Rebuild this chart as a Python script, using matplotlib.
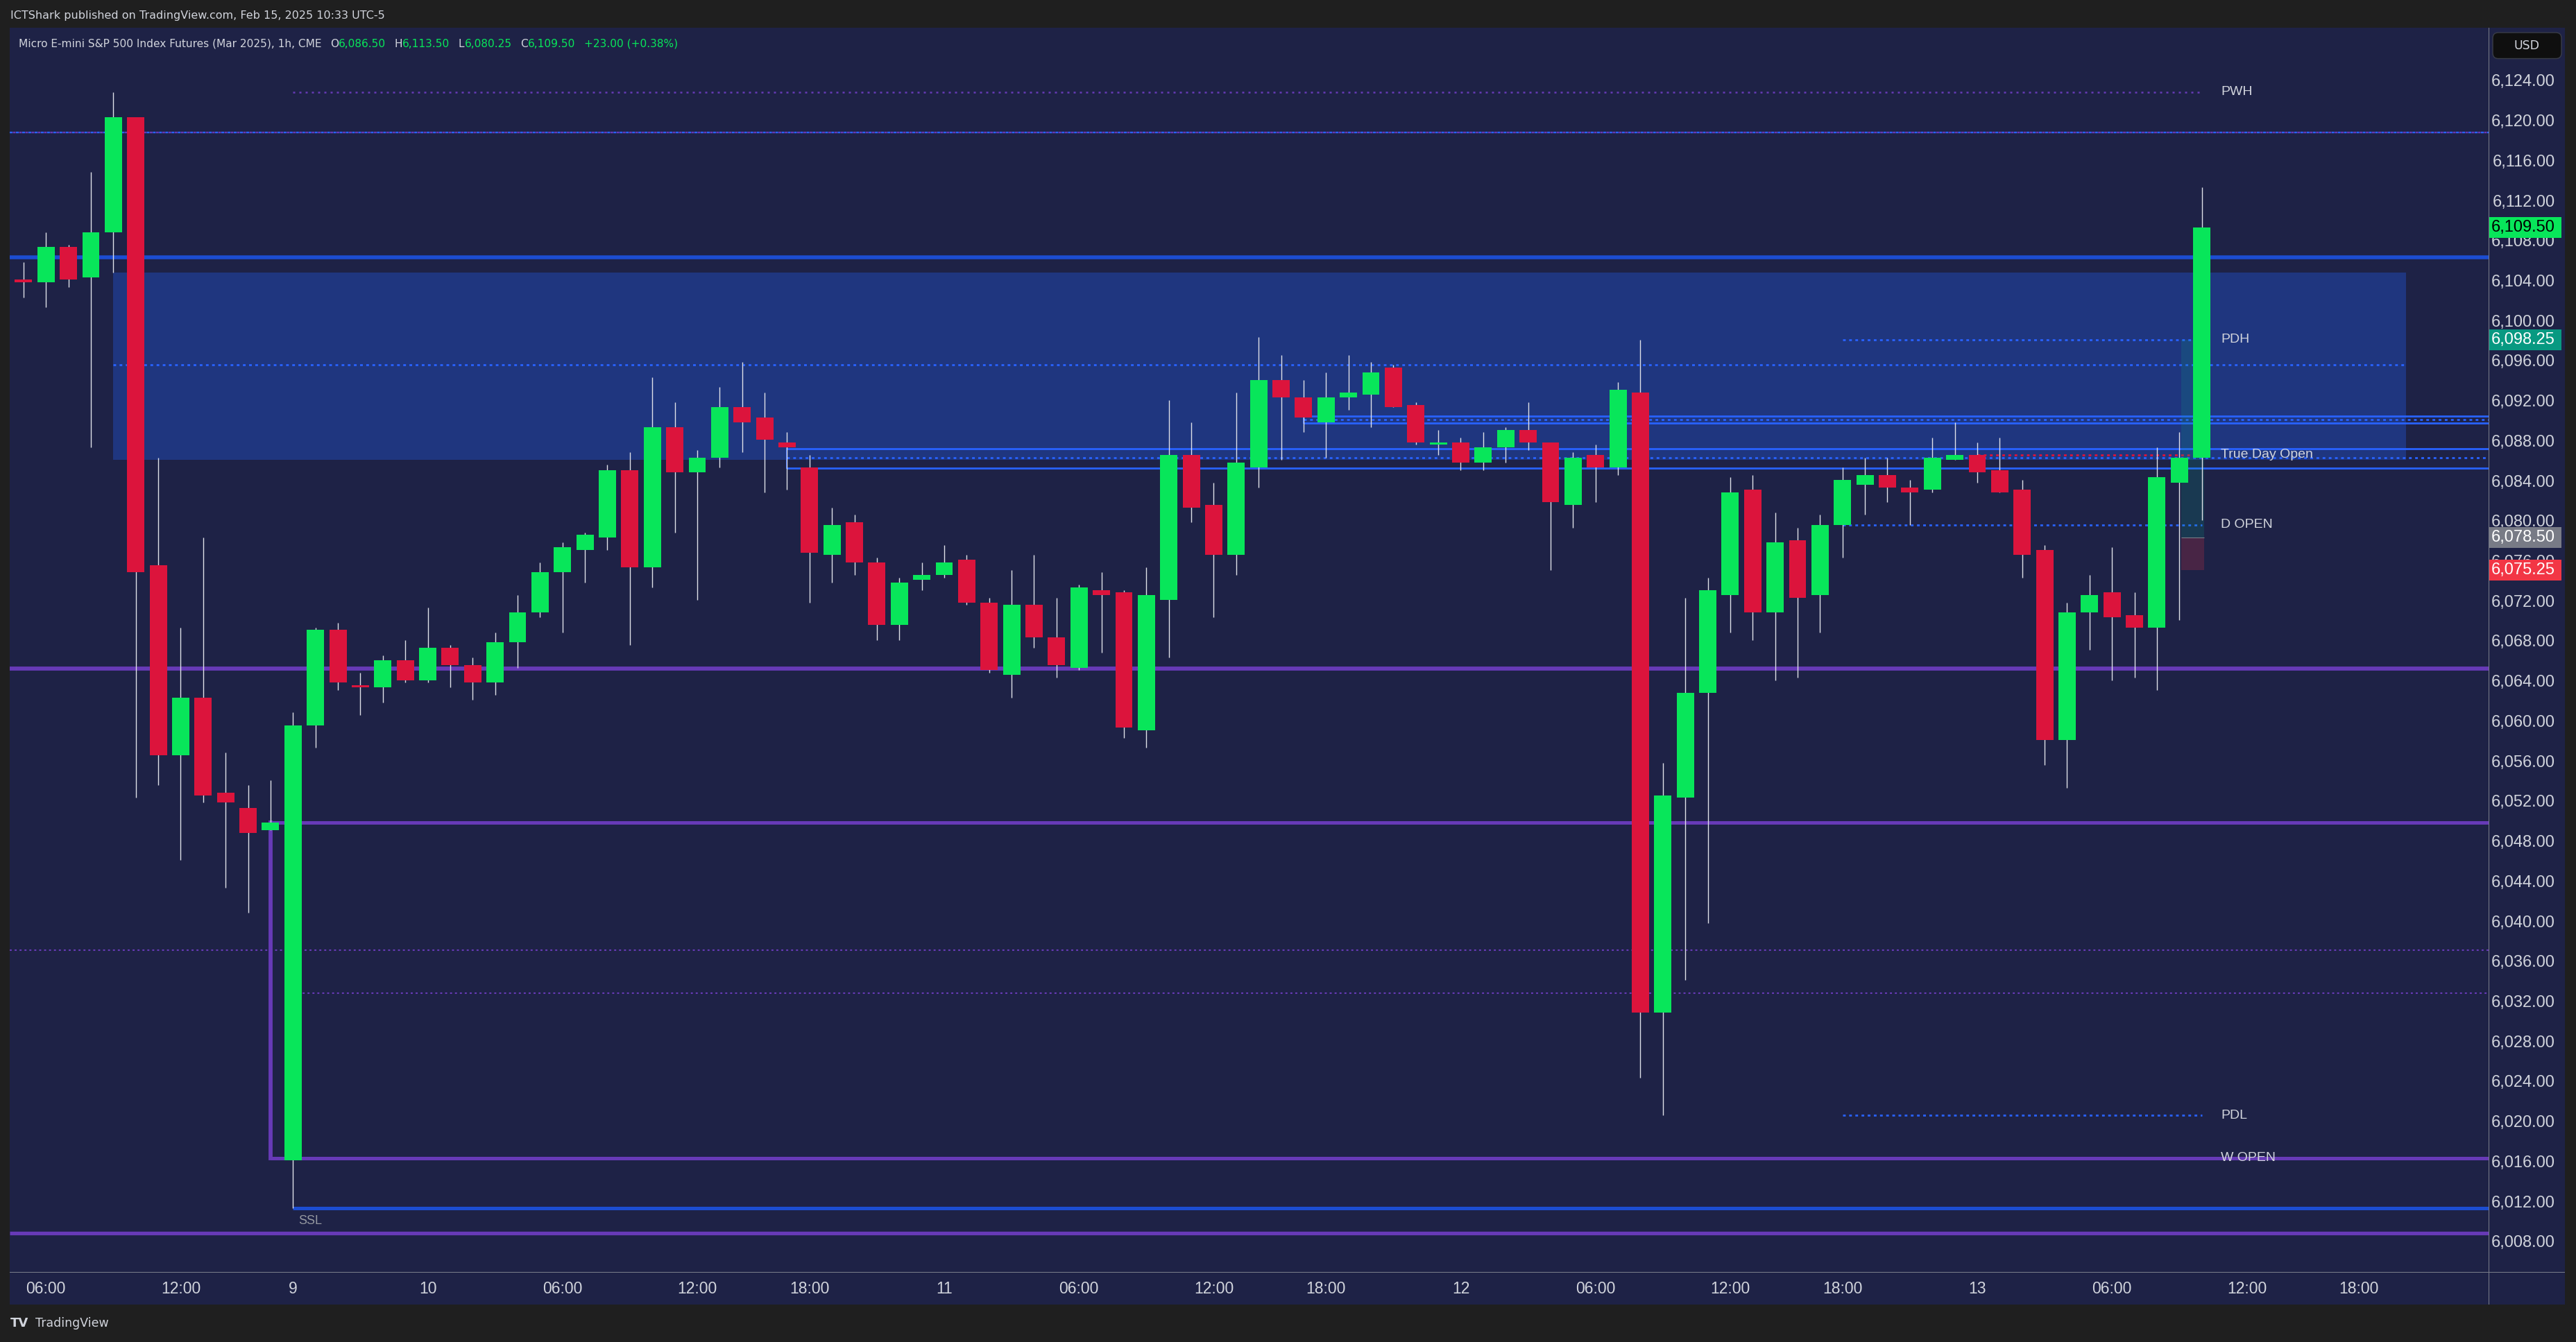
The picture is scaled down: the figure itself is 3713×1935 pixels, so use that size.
import matplotlib.pyplot as plt
import matplotlib.patches as patches
from matplotlib import font_manager
from matplotlib.transforms import IdentityTransform

W, H = 3713, 1935  # output size in pixels (dpi 100)

OUTER = '#1f1f1f'
NAVY = '#1e2246'
FVG_COLOR = '#1f367f'
UP = '#08e65a'
DOWN = '#dc143c'
WICK = '#dfe1e8'
TEXT = '#d1d4dc'
BLUE = '#2962ff'
BLUE_DARK = '#1c4dd2'
PURPLE = '#673ab7'
BORDER = '#7a7d8a'

names = {f.name for f in font_manager.fontManager.ttflist}
NARROW = 'Liberation Sans Narrow' if 'Liberation Sans Narrow' in names else 'Liberation Sans'

# MET1! 1h bars, Fri 7 Feb 05:00 -> Thu 13 Feb 10:00 (UTC-5)
opens = [6104.25, 6104.0, 6107.5, 6104.5, 6109.0, 6120.5, 6075.75, 6056.75, 6062.5, 6053.0,
         6051.5, 6049.25, 6016.25, 6059.75, 6069.25, 6063.75, 6063.5, 6066.25, 6064.25, 6067.5,
         6065.75, 6064.0, 6068.0, 6071.0, 6075.0, 6077.25, 6078.5, 6085.25, 6075.5, 6089.5,
         6085.0, 6086.5, 6091.5, 6090.5, 6088.0, 6085.5, 6076.75, 6080.0, 6076.0, 6069.75,
         6074.25, 6074.75, 6076.25, 6072.0, 6064.75, 6071.75, 6068.5, 6065.5, 6073.25, 6073.0,
         6059.25, 6072.25, 6086.75, 6081.75, 6076.75, 6085.5, 6094.25, 6092.5, 6090.0, 6092.5,
         6092.75, 6095.5, 6091.75, 6087.75, 6088.0, 6086.0, 6087.5, 6089.25, 6088.0, 6081.75,
         6086.75, 6085.5, 6093.0, 6031.0, 6052.5, 6063.0, 6072.75, 6083.25, 6071.0, 6078.25,
         6072.75, 6079.75, 6083.75, 6084.75, 6083.5, 6083.25, 6086.25, 6086.75, 6085.25, 6083.25,
         6077.25, 6058.25, 6071.0, 6073.0, 6070.75, 6069.5, 6084.0, 6086.5]
highs = [6106.0, 6109.0, 6107.75, 6115.0, 6123.0, 6120.5, 6086.5, 6069.5, 6078.5, 6057.0,
         6053.75, 6054.25, 6061.0, 6069.5, 6070.0, 6065.0, 6066.75, 6068.25, 6071.5, 6067.75,
         6066.5, 6069.0, 6072.75, 6076.0, 6078.0, 6079.0, 6085.75, 6087.0, 6094.5, 6092.0,
         6087.25, 6093.5, 6096.0, 6093.0, 6089.0, 6086.75, 6081.5, 6080.75, 6076.5, 6074.5,
         6076.0, 6077.75, 6076.75, 6072.5, 6075.25, 6076.75, 6072.5, 6073.75, 6075.0, 6073.25,
         6075.5, 6092.25, 6090.0, 6084.0, 6093.0, 6098.5, 6096.75, 6094.25, 6095.0, 6096.75,
         6096.0, 6095.75, 6092.0, 6089.25, 6088.5, 6089.0, 6089.5, 6092.0, 6088.0, 6087.0,
         6087.75, 6094.0, 6098.25, 6056.0, 6072.5, 6074.5, 6084.5, 6084.75, 6081.0, 6079.5,
         6080.75, 6085.5, 6086.5, 6086.5, 6084.25, 6088.5, 6090.0, 6088.0, 6088.5, 6084.25,
         6077.75, 6072.0, 6074.75, 6077.5, 6073.0, 6087.5, 6089.0, 6113.5]
lows = [6102.5, 6101.5, 6103.5, 6087.5, 6105.0, 6052.5, 6053.75, 6046.25, 6052.0, 6043.5,
        6041.0, 6049.25, 6011.5, 6057.5, 6063.25, 6060.75, 6062.0, 6064.0, 6064.0, 6063.5,
        6062.25, 6062.75, 6065.5, 6070.5, 6069.0, 6074.0, 6077.25, 6067.75, 6073.5, 6079.0,
        6072.25, 6085.5, 6087.0, 6083.0, 6083.25, 6072.0, 6074.0, 6074.75, 6068.25, 6068.25,
        6073.25, 6074.5, 6071.75, 6065.0, 6062.5, 6067.5, 6064.5, 6065.25, 6067.0, 6058.5,
        6057.5, 6066.5, 6080.0, 6070.5, 6074.75, 6083.5, 6086.25, 6089.0, 6086.5, 6091.25,
        6089.5, 6091.5, 6087.75, 6086.75, 6085.25, 6085.25, 6086.0, 6087.25, 6075.25, 6079.5,
        6082.0, 6084.75, 6024.5, 6020.75, 6034.25, 6040.0, 6069.0, 6068.25, 6064.25, 6064.5,
        6069.0, 6076.5, 6080.75, 6082.0, 6079.75, 6083.0, 6086.25, 6084.0, 6083.0, 6074.5,
        6055.75, 6053.5, 6067.25, 6064.25, 6064.5, 6063.25, 6070.25, 6080.25]
closes = [6104.0, 6107.5, 6104.25, 6109.0, 6120.5, 6075.0, 6056.75, 6062.5, 6052.75, 6052.0,
          6049.0, 6050.0, 6059.75, 6069.25, 6064.0, 6063.5, 6066.25, 6064.25, 6067.5, 6065.75,
          6064.0, 6068.0, 6071.0, 6075.0, 6077.5, 6078.75, 6085.25, 6075.5, 6089.5, 6085.0,
          6086.5, 6091.5, 6090.0, 6088.25, 6087.5, 6077.0, 6079.75, 6076.0, 6069.75, 6074.0,
          6074.75, 6076.0, 6072.0, 6065.25, 6071.75, 6068.5, 6065.75, 6073.5, 6072.75, 6059.5,
          6072.75, 6086.75, 6081.5, 6076.75, 6086.0, 6094.25, 6092.5, 6090.5, 6092.5, 6093.0,
          6095.0, 6091.5, 6088.0, 6088.0, 6086.0, 6087.5, 6089.25, 6088.0, 6082.0, 6086.5,
          6085.5, 6093.25, 6031.0, 6052.75, 6063.0, 6073.25, 6083.0, 6071.0, 6078.0, 6072.5,
          6079.75, 6084.25, 6084.75, 6083.5, 6083.0, 6086.5, 6086.75, 6085.0, 6083.0, 6076.75,
          6058.25, 6071.0, 6072.75, 6070.5, 6069.5, 6084.5, 6086.5, 6109.5]

time_ticks = [1, 7, 12, 18, 24, 30, 35, 41, 47, 53, 58, 64, 70, 76, 81, 87, 93, 99, 104]
time_labels = ['06:00', '12:00', '9', '10', '06:00', '12:00', '18:00', '11', '06:00', '12:00',
               '18:00', '12', '06:00', '12:00', '18:00', '13', '06:00', '12:00', '18:00']
price_ticks = list(range(6008, 6128, 4))

# drawn levels (price)
PWH = 6123.0
WEEK_DASH = 6119.0
BLUE_LEVEL = 6106.5
FVG_TOP, FVG_MID, FVG_BOT = 6105.0, 6095.75, 6086.25
PDH = 6098.25
UPPER_BOX = (6090.6, 6090.25, 6089.9)
LOWER_BOX = (6087.4, 6086.5, 6085.4)
TRUE_DAY_OPEN = 6086.75
D_OPEN = 6079.75
MID_PURPLE = 6065.4
RANGE_TOP, W_OPEN = 6050.0, 6016.5
DOT_A, DOT_B = 6037.25, 6033.0
PDL = 6020.75
SSL = 6011.5
LOW_PURPLE = 6009.0
TARGET, ENTRY, STOP = 6098.25, 6078.5, 6075.25

tags = [(6109.50, UP, 'black'), (6098.25, '#089981', 'white'),
        (6078.50, '#787b86', 'white'), (6075.25, '#f23645', 'white')]

XMIN, XMAX = -0.615, 109.77
YMIN, YMAX = 6005.11, 6129.43

label_kwargs = dict(ha='left', va='center', fontsize=14, color=TEXT, family=NARROW, zorder=6)
dot = (0, (1.4, 1.8))


def frac(x0, y0, x1, y1):
    return [x0 / W, 1 - y1 / H, (x1 - x0) / W, (y1 - y0) / H]


def px_rect(fig, x0, y0, x1, y1, **kw):
    r = patches.Rectangle((x0, H - y1), x1 - x0, y1 - y0, transform=IdentityTransform(), **kw)
    fig.add_artist(r)
    return r


def level(ax, y, x0=XMIN, x1=XMAX, **kw):
    ax.plot([x0, x1], [y, y], solid_capstyle='butt', **kw)


def main() -> None:
    fig = plt.figure(figsize=(W / 100, H / 100), dpi=100, facecolor=OUTER)

    # chart panel
    px_rect(fig, 14, 40, 3697, 1881, color=NAVY, lw=0, zorder=-5)

    ax = fig.add_axes(frac(14, 40, 3587, 1834))
    ax.set_xlim(XMIN, XMAX)
    ax.set_ylim(YMIN, YMAX)
    ax.set_axis_off()

    # FVG zone
    ax.add_patch(patches.Rectangle((4, FVG_BOT), 106.1 - 4, FVG_TOP - FVG_BOT,
                                   color=FVG_COLOR, lw=0, zorder=1))
    level(ax, FVG_MID, 4, 106.1, color=BLUE, lw=2, ls=dot, zorder=2)

    # full width levels
    level(ax, BLUE_LEVEL, color=BLUE_DARK, lw=4, zorder=2)
    level(ax, MID_PURPLE, color=PURPLE, lw=4.2, zorder=2)
    level(ax, LOW_PURPLE, color=PURPLE, lw=3.8, zorder=2)
    level(ax, WEEK_DASH, color=BLUE, lw=1.7, ls=(0, (1.7, 2.1)), zorder=2)
    level(ax, WEEK_DASH, color=PURPLE, lw=1.7, ls=(1.9, (1.7, 2.1)), zorder=2)
    level(ax, DOT_A, color=PURPLE, lw=1.5, ls=(0, (1.4, 2.0)), zorder=2)
    level(ax, DOT_B, 12, XMAX, color=PURPLE, lw=1.5, ls=(0, (1.4, 2.0)), zorder=2)
    level(ax, PWH, 12, 97, color=PURPLE, lw=1.8, ls=(0, (1.2, 2.4)), zorder=2)

    # weekly range box
    level(ax, RANGE_TOP, 11, XMAX, color=PURPLE, lw=3.6, zorder=2)
    level(ax, W_OPEN, 11, XMAX, color=PURPLE, lw=3.6, zorder=2)
    ax.plot([11, 11], [W_OPEN, RANGE_TOP], color=PURPLE, lw=4.2, zorder=2)
    level(ax, SSL, 12, XMAX, color=BLUE_DARK, lw=3.6, zorder=2)

    # brackets
    for start, (top, mid, bot) in [(34, LOWER_BOX), (57, UPPER_BOX)]:
        level(ax, top, start, XMAX, color=BLUE, lw=2, zorder=2)
        level(ax, bot, start, XMAX, color=BLUE, lw=2, zorder=2)
        level(ax, mid, start, XMAX, color=BLUE, lw=2, ls=dot, zorder=2)
        ax.plot([start, start], [bot, top], color=BLUE, lw=1.5, zorder=2)

    # daily levels
    level(ax, PDH, 81, 97, color=BLUE, lw=2, ls=dot, zorder=2)
    level(ax, D_OPEN, 81, 97, color=BLUE, lw=2, ls=dot, zorder=2)
    level(ax, PDL, 81, 97, color=BLUE, lw=2, ls=dot, zorder=2)
    level(ax, TRUE_DAY_OPEN, 87, 96.6, color=DOWN, lw=2, ls=dot, zorder=2.2)

    # long position tool
    ax.add_patch(patches.Rectangle((96.08, ENTRY), 1.02, TARGET - ENTRY,
                                   fc='#089981', alpha=0.2, lw=0, zorder=2.5))
    ax.add_patch(patches.Rectangle((96.08, STOP), 1.02, ENTRY - STOP,
                                   fc='#f23645', alpha=0.2, lw=0, zorder=2.5))
    level(ax, ENTRY, 96.08, 97.1, color='#787b86', lw=0.8, zorder=2.6)

    # candles
    idx = list(range(len(opens)))
    colors = [UP if c >= o else DOWN for o, c in zip(opens, closes)]
    bottoms = [min(o, c) for o, c in zip(opens, closes)]
    heights = [max(abs(c - o), 0.12) for o, c in zip(opens, closes)]
    ax.vlines(idx, lows, highs, colors=WICK, lw=1.0, zorder=3)
    ax.bar(idx, heights, bottom=bottoms, width=0.77, color=colors, lw=0, zorder=4)

    # level labels
    ax.text(97.85, PWH, 'PWH', **label_kwargs)
    ax.text(97.85, PDH, 'PDH', **label_kwargs)
    ax.text(97.85, TRUE_DAY_OPEN, 'True Day Open', **label_kwargs)
    ax.text(97.85, D_OPEN, 'D OPEN', **label_kwargs)
    ax.text(97.85, PDL, 'PDL', **label_kwargs)
    ax.text(97.85, W_OPEN, 'W OPEN', **label_kwargs)
    ax.text(12.25, SSL - 1.3, 'SSL', ha='left', va='center', fontsize=13, color='#9598a1',
            family=NARROW, zorder=6)

    # time scale
    for t, lab in zip(time_ticks, time_labels):
        ax.text(t, -0.0134, lab, transform=ax.get_xaxis_transform(), ha='center', va='center',
                fontsize=16.5, color=TEXT, family=NARROW, clip_on=False)

    # price scale; the last-value tags sit on top of the nearby labels as on the original
    pax = fig.add_axes(frac(3587, 40, 3697, 1834))
    pax.set_xlim(0, 1)
    pax.set_ylim(YMIN, YMAX)
    pax.set_axis_off()
    ytr = pax.get_yaxis_transform()
    for p in price_ticks:
        pax.text(0.873, p, f'{p:,.2f}', transform=ytr, ha='right', va='center',
                 fontsize=17, color=TEXT, family=NARROW, zorder=3)
    for p, bg, fg in tags:
        pax.add_patch(patches.Rectangle((0.01, p - 1.04), 0.945, 2.08, transform=ytr,
                                        fc=bg, lw=0, zorder=4, clip_on=False))
        pax.text(0.873, p, f'{p:,.2f}', transform=ytr, ha='right', va='center',
                 fontsize=17, color=fg, family=NARROW, zorder=5)

    # scale borders
    px_rect(fig, 3587, 40, 3588, 1881, color=BORDER, lw=0, zorder=6)
    px_rect(fig, 14, 1834, 3697, 1835, color=BORDER, lw=0, zorder=6)

    # USD badge
    usd = patches.FancyBboxPatch((3593, H - 84.5), 99, 37.5, boxstyle='round,pad=0,rounding_size=8',
                                 transform=IdentityTransform(), fc='#0f0f0f', ec='#3a3d48', lw=1,
                                 zorder=7)
    fig.add_artist(usd)
    fig.text(3642 / W, 1 - 66 / H, 'USD', ha='center', va='center', fontsize=12.5,
             color=TEXT, family='DejaVu Sans', zorder=8)

    # header and legend
    fig.text(15 / W, 1 - 22.5 / H, 'ICTShark published on TradingView.com, Feb 15, 2025 10:33 UTC-5',
             ha='left', va='center', fontsize=11.5, color=TEXT, family='DejaVu Sans')
    legend = [('Micro E-mini S&P 500 Index Futures (Mar 2025), 1h, CME', TEXT, 0),
              ('O', TEXT, 9), ('6,086.50', UP, 0), ('H', TEXT, 9), ('6,113.50', UP, 0),
              ('L', TEXT, 9), ('6,080.25', UP, 0), ('C', TEXT, 9), ('6,109.50', UP, 0),
              ('+23.00 (+0.38%)', UP, 9)]
    prev = fig.text(27 / W, 1 - 63 / H, legend[0][0], ha='left', va='center', fontsize=11.1,
                    color=legend[0][1], family='DejaVu Sans')
    for s, col, gap in legend[1:]:
        prev = ax.annotate(s, xy=(1, 0.5), xycoords=prev, xytext=(gap, 0),
                           textcoords='offset points', ha='left', va='center', fontsize=11.1,
                           color=col, family='DejaVu Sans')

    # footer
    fig.text(15 / W, 1 - 1908 / H, 'TV', ha='left', va='center', fontsize=13, weight='bold',
             color=TEXT, family='DejaVu Sans')
    fig.text(51 / W, 1 - 1908 / H, 'TradingView', ha='left', va='center', fontsize=12.5,
             color=TEXT, family='DejaVu Sans')

    fig.savefig('out.png', dpi=100, facecolor=OUTER)
    plt.close(fig)


if __name__ == '__main__':
    main()
